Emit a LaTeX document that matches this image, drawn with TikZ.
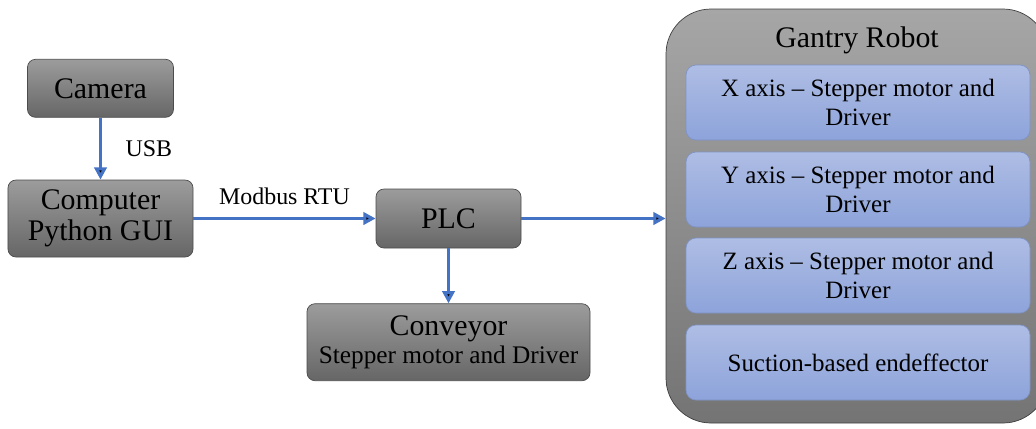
\documentclass[tikz,border=0pt]{standalone}
\usepackage{fontspec}
\setmainfont{LiberationSerif}[Extension=.ttf,UprightFont=*-Regular,BoldFont=*-Bold,ItalicFont=*-Italic,BoldItalicFont=*-BoldItalic]
\usepackage{tikz}
\usetikzlibrary{arrows.meta,positioning}
\definecolor{linkblue}{HTML}{4472C4}
\definecolor{boxtop}{HTML}{9C9C9C}
\definecolor{boxbot}{HTML}{666666}
\definecolor{robtop}{HTML}{A6A6A6}
\definecolor{robbot}{HTML}{747474}
\definecolor{axtop}{HTML}{AEBDE4}
\definecolor{axbot}{HTML}{8DA3DA}
\definecolor{axline}{HTML}{7E93C6}
\tikzset{
    %Define standard arrow tip
    >={Triangle[length=7pt,width=7pt]},
    %Define style for boxes
    unit/.style={
           rectangle,
           rounded corners=0.16cm,
           draw=black!70, thin,
           top color=boxtop, bottom color=boxbot,
           font=\fontsize{17}{18}\selectfont,
           align=center,
           inner sep=0pt},
    robot/.style={
           rectangle,
           rounded corners=0.9cm,
           draw=black!75, thin,
           top color=robtop, bottom color=robbot},
    axis/.style={
           rectangle,
           rounded corners=0.2cm,
           draw=axline, thin,
           top color=axtop, bottom color=axbot,
           minimum width=6.88cm,
           minimum height=1.5cm,
           font=\fontsize{14.2}{16}\selectfont,
           align=center,
           inner sep=0pt},
    % Define arrow style
    link/.style={
           ->,
           draw=linkblue,
           line width=2pt},
    tag/.style={
           font=\fontsize{13.6}{15}\selectfont}
}
\begin{document}
\begin{tikzpicture}[node distance=1.24cm]
\useasboundingbox (0,0) rectangle (20.72,-8.56);
\node[unit, minimum width=3.7cm, minimum height=1.54cm](pc) at (2.01,-4.37){Computer\\Python GUI};
\node[unit, minimum width=2.92cm, minimum height=1.16cm, above=of pc](cam){Camera};
\node[unit, minimum width=2.9cm, minimum height=1.18cm](plc) at (8.97,-4.37){PLC};
\node[unit, minimum width=5.66cm, minimum height=1.54cm, below=1.1cm of plc](conv){Conveyor\\[-2pt]{\fontsize{14.4}{16}\selectfont Stepper motor and Driver}};
% gantry robot and its parts
\node[robot, minimum width=7.64cm, minimum height=8.28cm](gantry) at (17.14,-4.32){};
\node[font=\fontsize{17}{18}\selectfont](title) at (17.14,-0.8){Gantry Robot};
\node[axis](xax) at (17.16,-2.05){X axis -- Stepper motor and\\Driver};
\node[axis](yax) at (17.16,-3.79){Y axis -- Stepper motor and\\Driver};
\node[axis](zax) at (17.16,-5.51){Z axis -- Stepper motor and\\Driver};
\node[axis](eff) at (17.16,-7.25){Suction-based endeffector};
\path[link]
	(cam) edge node[tag, right=0.35cm]{USB} (pc)
	(pc) edge node[tag, above=0.12cm]{Modbus RTU} (plc)
	(plc) edge (conv)
	(plc) edge (gantry.west |- plc);
\end{tikzpicture}
\end{document}
